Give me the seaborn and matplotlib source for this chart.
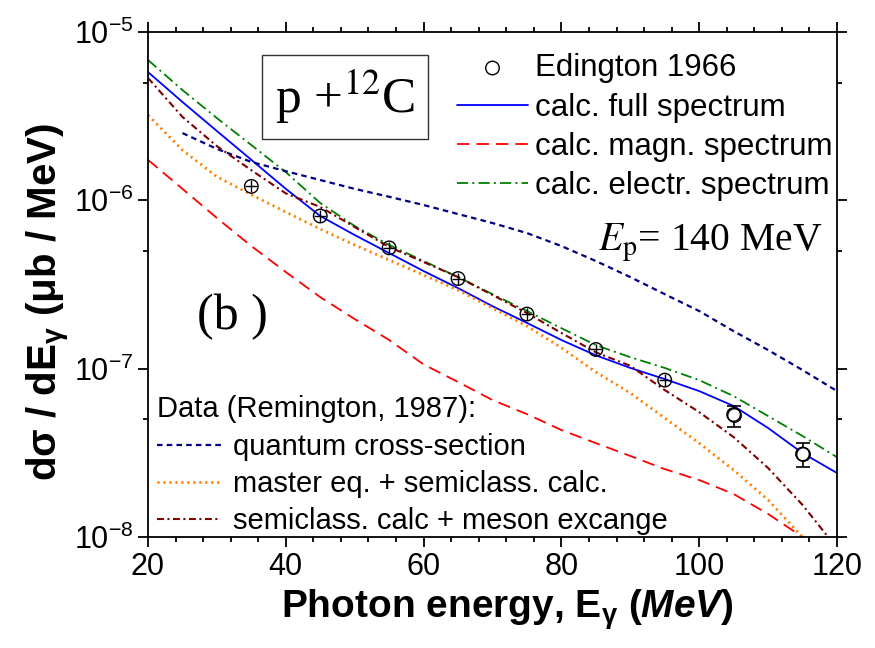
import matplotlib
matplotlib.use('Agg')
import matplotlib.pyplot as plt
from matplotlib import font_manager
from matplotlib.ticker import MultipleLocator, LogLocator, NullFormatter, FuncFormatter
import seaborn as sns
import numpy as np

# ---------------- data ----------------
E = [20, 25, 30, 35, 40, 45, 50, 55, 60, 65, 70, 75, 80, 85, 90, 95, 100, 105, 110, 115, 120]
full_spec = [5.78e-6, 3.84e-6, 2.58e-6, 1.74e-6, 1.17e-6, 8.07e-7, 6.22e-7, 4.86e-7, 3.80e-7, 3.01e-7,
             2.35e-7, 1.87e-7, 1.48e-7, 1.20e-7, 1.01e-7, 8.67e-8, 7.36e-8, 6.00e-8, 4.44e-8, 3.15e-8, 2.40e-8]
magn_spec = [1.74e-6, 1.17e-6, 7.85e-7, 5.35e-7, 3.75e-7, 2.66e-7, 1.97e-7, 1.48e-7, 1.06e-7, 8.33e-8,
             6.51e-8, 5.37e-8, 4.32e-8, 3.61e-8, 3.03e-8, 2.53e-8, 2.18e-8, 1.80e-8, 1.37e-8, 1.00e-8, 5.5e-9]
electr_spec = [6.82e-6, 4.52e-6, 3.08e-6, 2.13e-6, 1.47e-6, 9.64e-7, 7.04e-7, 5.43e-7, 4.36e-7, 3.50e-7,
               2.77e-7, 2.20e-7, 1.74e-7, 1.38e-7, 1.17e-7, 1.01e-7, 8.55e-8, 6.87e-8, 5.23e-8, 3.98e-8, 2.98e-8]
E_quantum = [25, 30, 35, 40, 45, 50, 55, 60, 65, 70, 75, 80, 85, 90, 95, 100, 105, 110, 115, 120]
quantum = [2.51e-6, 2.02e-6, 1.69e-6, 1.49e-6, 1.32e-6, 1.17e-6, 1.05e-6, 9.38e-7, 8.29e-7, 7.33e-7,
           6.39e-7, 5.35e-7, 4.36e-7, 3.50e-7, 2.77e-7, 2.20e-7, 1.67e-7, 1.29e-7, 9.81e-8, 7.36e-8]
master_eq = [3.21e-6, 1.99e-6, 1.38e-6, 1.08e-6, 8.52e-7, 6.75e-7, 5.43e-7, 4.42e-7, 3.60e-7, 2.93e-7,
             2.29e-7, 1.79e-7, 1.33e-7, 9.55e-8, 7.16e-8, 5.09e-8, 3.61e-8, 2.50e-8, 1.66e-8, 9.99e-9, 5.2e-9]
meson = [5.33e-6, 3.13e-6, 2.10e-6, 1.51e-6, 1.10e-6, 9.13e-7, 6.94e-7, 5.28e-7, 4.30e-7, 3.50e-7,
         2.74e-7, 2.14e-7, 1.63e-7, 1.25e-7, 1.04e-7, 7.46e-8, 5.52e-8, 3.92e-8, 2.57e-8, 1.55e-8, 8.6e-9]

E_data = [35, 45, 55, 65, 75, 85, 95, 105, 115]
sigma_data = [1.21e-6, 8.07e-7, 5.22e-7, 3.43e-7, 2.11e-7, 1.30e-7, 8.55e-8, 5.34e-8, 3.11e-8]
err_lo = [0.095e-6, 0.64e-7, 0.41e-7, 0.27e-7, 0.17e-7, 0.10e-7, 0.67e-8, 0.83e-8, 0.51e-8]
err_hi = [0.103e-6, 0.69e-7, 0.45e-7, 0.29e-7, 0.18e-7, 0.11e-7, 0.73e-8, 0.70e-8, 0.49e-8]
E_err = [0.85, 0.85, 0.85, 0.85, 0.85, 0.85, 0.85]

x_ticks = [20, 40, 60, 80, 100, 120]

# ---------------- style ----------------
sns.set_style('ticks')
names = {f.name for f in font_manager.fontManager.ttflist}
NARROW = 'Liberation Sans Narrow' if 'Liberation Sans Narrow' in names else 'Liberation Sans'
plt.rcParams['font.family'] = ['Liberation Sans', 'DejaVu Sans']
plt.rcParams['mathtext.fontset'] = 'custom'
plt.rcParams['mathtext.rm'] = NARROW + ':bold'
plt.rcParams['mathtext.bf'] = NARROW + ':bold'
plt.rcParams['mathtext.it'] = NARROW + ':italic:bold'
plt.rcParams['lines.scale_dashes'] = False
plt.rcParams['axes.linewidth'] = 1.3
for k in ['text.color', 'axes.labelcolor', 'xtick.color', 'ytick.color', 'axes.edgecolor']:
    plt.rcParams[k] = 'black'

fig = plt.figure(figsize=(8.75, 6.48), dpi=100)
ax = fig.add_axes([148 / 875, 1 - 537 / 648, 689 / 875, 505 / 648])
ax.set_facecolor('white')

# curves
sns.lineplot(x=E, y=full_spec, ax=ax, color='#0000ff', lw=1.3, label='calc. full spectrum')
sns.lineplot(x=E, y=magn_spec, ax=ax, color='#ff0000', lw=1.3, linestyle=(0, (9, 5)),
             label='calc. magn. spectrum')
sns.lineplot(x=E, y=electr_spec, ax=ax, color='#008000', lw=1.3, linestyle=(0, (8, 3, 1.5, 3)),
             label='calc. electr. spectrum')
sns.lineplot(x=E_quantum, y=quantum, ax=ax, color='#000080', lw=1.6, linestyle=(0, (4, 3)),
             label='quantum cross-section')
sns.lineplot(x=E, y=master_eq, ax=ax, color='#ff8000', lw=2.0, linestyle=(0, (1.5, 2.8)),
             label='master eq. + semiclass. calc.')
sns.lineplot(x=E, y=meson, ax=ax, color='#800000', lw=1.5, linestyle=(0, (5, 2.5, 1.5, 2.5)),
             label='semiclass. calc + meson excange')

# data points with error bars
n_small = len(E_err)
ax.errorbar(E_data[n_small:], sigma_data[n_small:], yerr=[err_lo[n_small:], err_hi[n_small:]],
            fmt='none', ecolor='black', elinewidth=1.2, capsize=5, capthick=1.2, zorder=3)
sns.scatterplot(x=E_data[n_small:], y=sigma_data[n_small:], ax=ax, marker='o', s=95,
                facecolor='white', edgecolor='black', linewidth=1.0, zorder=4)
ax.errorbar(E_data[:n_small], sigma_data[:n_small], yerr=[err_lo[:n_small], err_hi[:n_small]],
            xerr=E_err, fmt='none', ecolor='black', elinewidth=1.0, capsize=0, zorder=5)
sns.scatterplot(x=E_data, y=sigma_data, ax=ax, marker='o', s=95, facecolor='none',
                edgecolor='black', linewidth=1.0, zorder=6, label='Edington 1966')

# axes
ax.set_yscale('log')
ax.set_xlim(20, 120)
ax.set_ylim(1e-8, 1e-5)
ax.set_xticks(x_ticks)
ax.xaxis.set_minor_locator(MultipleLocator(4))
ax.yaxis.set_major_locator(LogLocator(base=10, subs=(1.0,)))
ax.yaxis.set_minor_locator(LogLocator(base=10, subs=(5.0,)))
ax.yaxis.set_minor_formatter(NullFormatter())
ax.yaxis.set_major_formatter(FuncFormatter(lambda v, p: r'$\mathregular{10^{%d}}$' % round(np.log10(v))))
ax.tick_params(which='both', direction='out', top=True, right=True, width=1.3, colors='black')
ax.tick_params(which='major', length=7.5, labelsize=22, pad=3, labelfontfamily=NARROW)
ax.tick_params(which='minor', length=3.8)
for s in ax.spines.values():
    s.set_visible(True)
    s.set_color('black')
    s.set_linewidth(1.3)

ax.set_xlabel(r'Photon energy, E$_{\mathbf{\gamma}}$ $\mathit{(MeV)}$', fontsize=28,
              fontweight='bold', fontfamily=NARROW)
ax.set_ylabel(r'd$\mathbf{\sigma}$ / dE$_{\mathbf{\gamma}}$ ($\mathbf{\mu}$b / MeV)', fontsize=29,
              fontweight='bold', fontfamily=NARROW)
ax.xaxis.set_label_coords(0.521, -0.1)
ax.yaxis.set_label_coords(-0.11, 0.465)

# annotations
ax.text(0.286, 0.871, r'p +$^{12}$C', transform=ax.transAxes, ha='center', va='center',
        fontsize=37, family='Liberation Serif', math_fontfamily='stix',
        bbox=dict(boxstyle='square,pad=0.25', fc='white', ec='#333333', lw=1.0), zorder=7)
ax.text(0.653, 0.568, r'$E_\mathrm{p}$= 140 MeV', transform=ax.transAxes, ha='left', va='baseline',
        fontsize=28.5, family='Liberation Serif', math_fontfamily='stix', zorder=7)
ax.text(0.123, 0.436, '(b )', transform=ax.transAxes, ha='center', va='center',
        fontsize=36, family='Liberation Serif', zorder=7)

# legends
handles, labels = ax.get_legend_handles_labels()
hmap = dict(zip(labels, handles))
top_labels = ['Edington 1966', 'calc. full spectrum', 'calc. magn. spectrum', 'calc. electr. spectrum']
bot_labels = ['quantum cross-section', 'master eq. + semiclass. calc.', 'semiclass. calc + meson excange']
leg1 = ax.legend([hmap[l] for l in top_labels], top_labels, loc='upper right',
                 bbox_to_anchor=(0.993, 0.958), borderaxespad=0, borderpad=0, frameon=False,
                 fontsize=22.5, handlelength=2.3, handletextpad=0.2, labelspacing=0.3)
ax.add_artist(leg1)
leg2 = ax.legend([hmap[l] for l in bot_labels], bot_labels, loc='lower left',
                 bbox_to_anchor=(0.013, 0.003), borderaxespad=0, borderpad=0, frameon=False,
                 fontsize=21, title='Data (Remington, 1987):', title_fontsize=21, alignment='left',
                 handlelength=2.2, handletextpad=0.4, labelspacing=0.32)

fig.savefig('out.png', dpi=100, facecolor='white')
